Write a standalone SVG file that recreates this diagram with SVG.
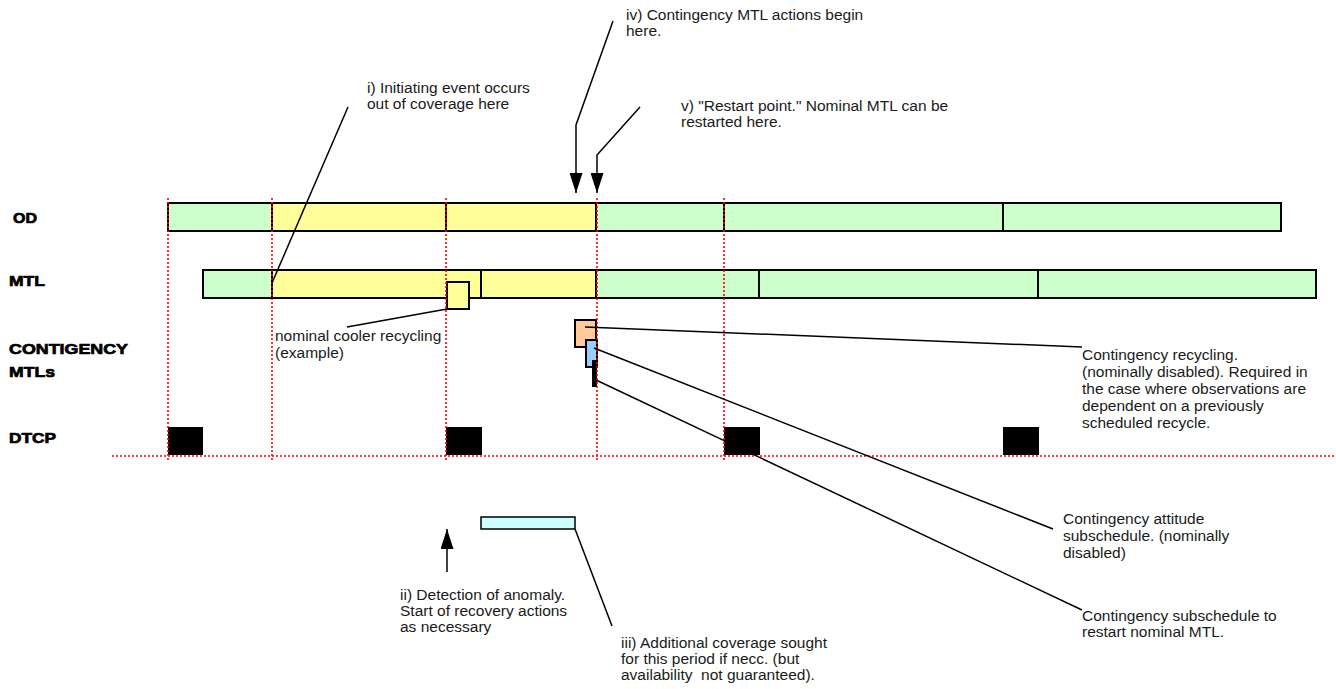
<svg xmlns="http://www.w3.org/2000/svg" width="1336" height="689" viewBox="0 0 1336 689">
<style>
.lbl{font-family:"Liberation Sans",Arial,sans-serif;font-weight:bold;font-size:15px;fill:#000;stroke:#000;stroke-width:0.7}
.t{font-family:"Liberation Sans",Arial,sans-serif;font-size:15.5px;fill:#1a1a1a}
.bar{stroke:#000;stroke-width:2}
.g{fill:#ccffcc}
.y{fill:#ffff99}
.red{stroke:#ff0000;stroke-width:1.6;stroke-dasharray:2,2;fill:none}
.ln{stroke:#000;stroke-width:1.5;fill:none}
.blk{fill:#000}
</style>
<defs>
<marker id="ah" markerWidth="20" markerHeight="13" refX="20" refY="6.5" orient="auto" markerUnits="userSpaceOnUse" viewBox="0 0 20 13">
<path d="M0,0 L20,6.5 L0,13 Z" fill="#000"/>
</marker>
</defs>
<rect width="1336" height="689" fill="#fff"/>

<g id="labels">
<text class="lbl" x="13" y="223" textLength="24" lengthAdjust="spacingAndGlyphs">OD</text>
<text class="lbl" x="9" y="286" textLength="36" lengthAdjust="spacingAndGlyphs">MTL</text>
<text class="lbl" x="9" y="354" textLength="119" lengthAdjust="spacingAndGlyphs">CONTIGENCY</text>
<text class="lbl" x="9" y="377" textLength="46" lengthAdjust="spacingAndGlyphs">MTLs</text>
<text class="lbl" x="9" y="443" textLength="47" lengthAdjust="spacingAndGlyphs">DTCP</text>
</g>

<g id="od-bar">
<rect class="bar g" x="168" y="203" width="104" height="28"/>
<rect class="bar y" x="272" y="203" width="174" height="28"/>
<rect class="bar y" x="446" y="203" width="150" height="28"/>
<rect class="bar g" x="596" y="203" width="128" height="28"/>
<rect class="bar g" x="724" y="203" width="279" height="28"/>
<rect class="bar g" x="1003" y="203" width="278" height="28"/>
</g>

<g id="mtl-bar">
<rect class="bar g" x="203" y="270" width="69" height="28"/>
<rect class="bar y" x="272" y="270" width="209" height="28"/>
<rect class="bar y" x="481" y="270" width="115" height="28"/>
<rect class="bar g" x="596" y="270" width="163" height="28"/>
<rect class="bar g" x="759" y="270" width="279" height="28"/>
<rect class="bar g" x="1038" y="270" width="278" height="28"/>
</g>

<g id="cooler-recycling">
<rect class="bar y" x="447" y="282" width="22" height="27"/>
</g>

<g id="contingency-boxes">
<rect class="bar" x="575" y="320" width="21" height="27" fill="#ffcc99"/>
<rect class="bar" x="586" y="340" width="11" height="27" fill="#99ccff"/>
<rect x="592" y="360" width="5" height="27" fill="#000"/>
</g>

<g id="dtcp">
<rect class="blk" x="168" y="427" width="35" height="28"/>
<rect class="blk" x="446" y="427" width="36" height="28"/>
<rect class="blk" x="724" y="427" width="36" height="28"/>
<rect class="blk" x="1003" y="427" width="36" height="28"/>
</g>

<g id="coverage-bar">
<rect x="481" y="517" width="94" height="12" fill="#ccffff" stroke="#000" stroke-width="1.5"/>
</g>

<g id="guides">
<line class="red" x1="168" y1="198" x2="168" y2="462"/>
<line class="red" x1="272" y1="198" x2="272" y2="462"/>
<line class="red" x1="446" y1="198" x2="446" y2="462"/>
<line class="red" x1="597" y1="198" x2="597" y2="462"/>
<line class="red" x1="724" y1="198" x2="724" y2="462"/>
<line class="red" x1="112" y1="456" x2="1336" y2="456"/>
</g>

<g id="connectors">
<line class="ln" x1="348" y1="107" x2="272" y2="283"/>
<polyline class="ln" points="613,21 576,125 576,193" marker-end="url(#ah)"/>
<polyline class="ln" points="640,107 597,155 597,193" marker-end="url(#ah)"/>
<line class="ln" x1="447" y1="572" x2="447" y2="529" marker-end="url(#ah)"/>
<line class="ln" x1="447" y1="309" x2="347" y2="327"/>
<line class="ln" x1="585" y1="327" x2="1082" y2="347"/>
<line class="ln" x1="594" y1="348" x2="1053" y2="529"/>
<line class="ln" x1="596" y1="380" x2="1082" y2="610"/>
<line class="ln" x1="575" y1="529" x2="612" y2="626"/>
</g>

<g id="annotations">
<text class="t" x="367" y="93">i) Initiating event occurs<tspan x="367" dy="16">out of coverage here</tspan></text>
<text class="t" x="626" y="20">iv) Contingency MTL actions begin<tspan x="626" dy="16">here.</tspan></text>
<text class="t" x="681" y="111">v) "Restart point." Nominal MTL can be<tspan x="681" dy="16">restarted here.</tspan></text>
<text class="t" x="275" y="341">nominal cooler recycling<tspan x="275" dy="17">(example)</tspan></text>
<text class="t" x="1082" y="360">Contingency recycling.<tspan x="1082" dy="17">(nominally disabled). Required in</tspan><tspan x="1082" dy="17">the case where observations are</tspan><tspan x="1082" dy="17">dependent on a previously</tspan><tspan x="1082" dy="17">scheduled recycle.</tspan></text>
<text class="t" x="1063" y="524">Contingency attitude<tspan x="1063" dy="17">subschedule. (nominally</tspan><tspan x="1063" dy="17">disabled)</tspan></text>
<text class="t" x="1082" y="621">Contingency subschedule to<tspan x="1082" dy="16">restart nominal MTL.</tspan></text>
<text class="t" x="400" y="600">ii) Detection of anomaly.<tspan x="400" dy="16">Start of recovery actions</tspan><tspan x="400" dy="16">as necessary</tspan></text>
<text class="t" x="621" y="648">iii) Additional coverage sought<tspan x="621" dy="16">for this period if necc. (but</tspan><tspan x="621" dy="16">availability&#160; not guaranteed).</tspan></text>
</g>
</svg>
